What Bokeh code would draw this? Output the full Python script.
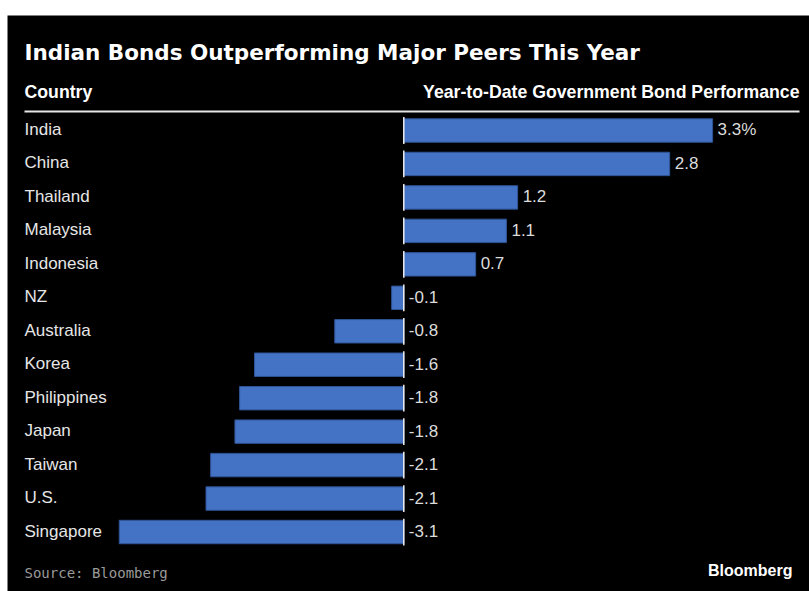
from bokeh.plotting import figure
from bokeh.models import Range1d, ColumnDataSource
from bokeh.core.properties import value
from bokeh.embed import file_html
from bokeh.resources import INLINE

# ---- data ----
countries = ["India", "China", "Thailand", "Malaysia", "Indonesia", "NZ", "Australia",
             "Korea", "Philippines", "Japan", "Taiwan", "U.S.", "Singapore"]
performance = [3.31, 2.85, 1.22, 1.10, 0.77, -0.13, -0.74, -1.60, -1.76, -1.81, -2.07, -2.12, -3.05]
value_labels = ["3.3%", "2.8", "1.2", "1.1", "0.7", "-0.1", "-0.8", "-1.6", "-1.8", "-1.8",
                "-2.1", "-2.1", "-3.1"]
title_text = "Indian Bonds Outperforming Major Peers This Year"
left_header = "Country"
right_header = "Year-to-Date Government Bond Performance"
source_text = "Source: Bloomberg"
brand_text = "Bloomberg"

# ---- layout (pixel geometry) ----
W, H = 809, 591
BL, BT = 7, 15              # white margin left / top
FW, FH = W - BL, H - BT
ZERO_PX, SCALE = 403.3, 93.3
ROW0_PX, ROW_STEP = 130.0, 33.46

xs = -(ZERO_PX - BL) / SCALE
xe = xs + FW / SCALE
ye = (ROW0_PX - BT) / ROW_STEP
ys = -(H - ROW0_PX) / ROW_STEP


def X(px):
    return xs + (px - BL) / FW * (xe - xs)


def Y(py):
    return ye - (py - BT) / FH * (ye - ys)


rows = [-i for i in range(len(countries))]
src = ColumnDataSource(dict(
    country=countries,
    perf=performance,
    lab=value_labels,
    y=rows,
    zero=[0.0] * len(countries),
    labx=[max(v, 0.0) for v in performance],
    ytop=[r + 0.40 for r in rows],
    ybot=[r - 0.40 for r in rows],
))

p = figure(width=W, height=H, output_backend="svg", toolbar_location=None,
           x_range=Range1d(xs, xe), y_range=Range1d(ys, ye),
           min_border_left=BL, min_border_top=BT, min_border_right=0, min_border_bottom=0)
p.axis.visible = False
p.grid.visible = False
p.outline_line_color = None
p.background_fill_color = "black"
p.border_fill_color = "white"

# bars
p.hbar(y="y", left="zero", right="perf", height=0.70, source=src,
       fill_color="#4472C4", line_color="#2F5597", line_width=1)

# zero line per row
p.segment(x0="zero", y0="ybot", x1="zero", y1="ytop", source=src,
          line_color="#f0f0f0", line_width=1.5)

# country labels
p.text(x=X(24), y="y", text="country", source=src, text_baseline="middle", y_offset=-1,
       text_align="left", text_color="#e6e6e6", text_font_size="17px",
       text_font=value("Liberation Sans"))

# value labels
p.text(x="labx", y="y", text="lab", source=src, x_offset=5, y_offset=-1, text_baseline="middle",
       text_align="left", text_color="#dcdcdc", text_font_size="17px",
       text_font=value("Liberation Sans"))

# title
p.text(x=[X(24)], y=[Y(52)], text=[title_text], text_baseline="middle", text_align="left",
       text_color="white", text_font_size="21.5px", text_font_style="bold",
       text_font=value("DejaVu Sans"))

# headers
p.text(x=[X(24)], y=[Y(91)], text=[left_header], text_baseline="middle", text_align="left",
       text_color="white", text_font_size="17.7px", text_font_style="bold",
       text_font=value("Liberation Sans"))
p.text(x=[X(799)], y=[Y(91)], text=[right_header], text_baseline="middle", text_align="right",
       text_color="white", text_font_size="17.7px", text_font_style="bold",
       text_font=value("Liberation Sans"))

# header rule
p.segment(x0=[X(24)], y0=[Y(111)], x1=[X(799)], y1=[Y(111)],
          line_color="#e6e6e6", line_width=2)

# footer
p.text(x=[X(24)], y=[Y(572)], text=[source_text], text_baseline="middle", text_align="left",
       text_color="#9a9a9a", text_font_size="14px", text_font=value("DejaVu Sans Mono"))
p.text(x=[X(792)], y=[Y(570)], text=[brand_text], text_baseline="middle", text_align="right",
       text_color="white", text_font_size="16px", text_font_style="bold",
       text_font=value("Liberation Sans"))

open("out.html", "w").write(file_html(p, INLINE))
